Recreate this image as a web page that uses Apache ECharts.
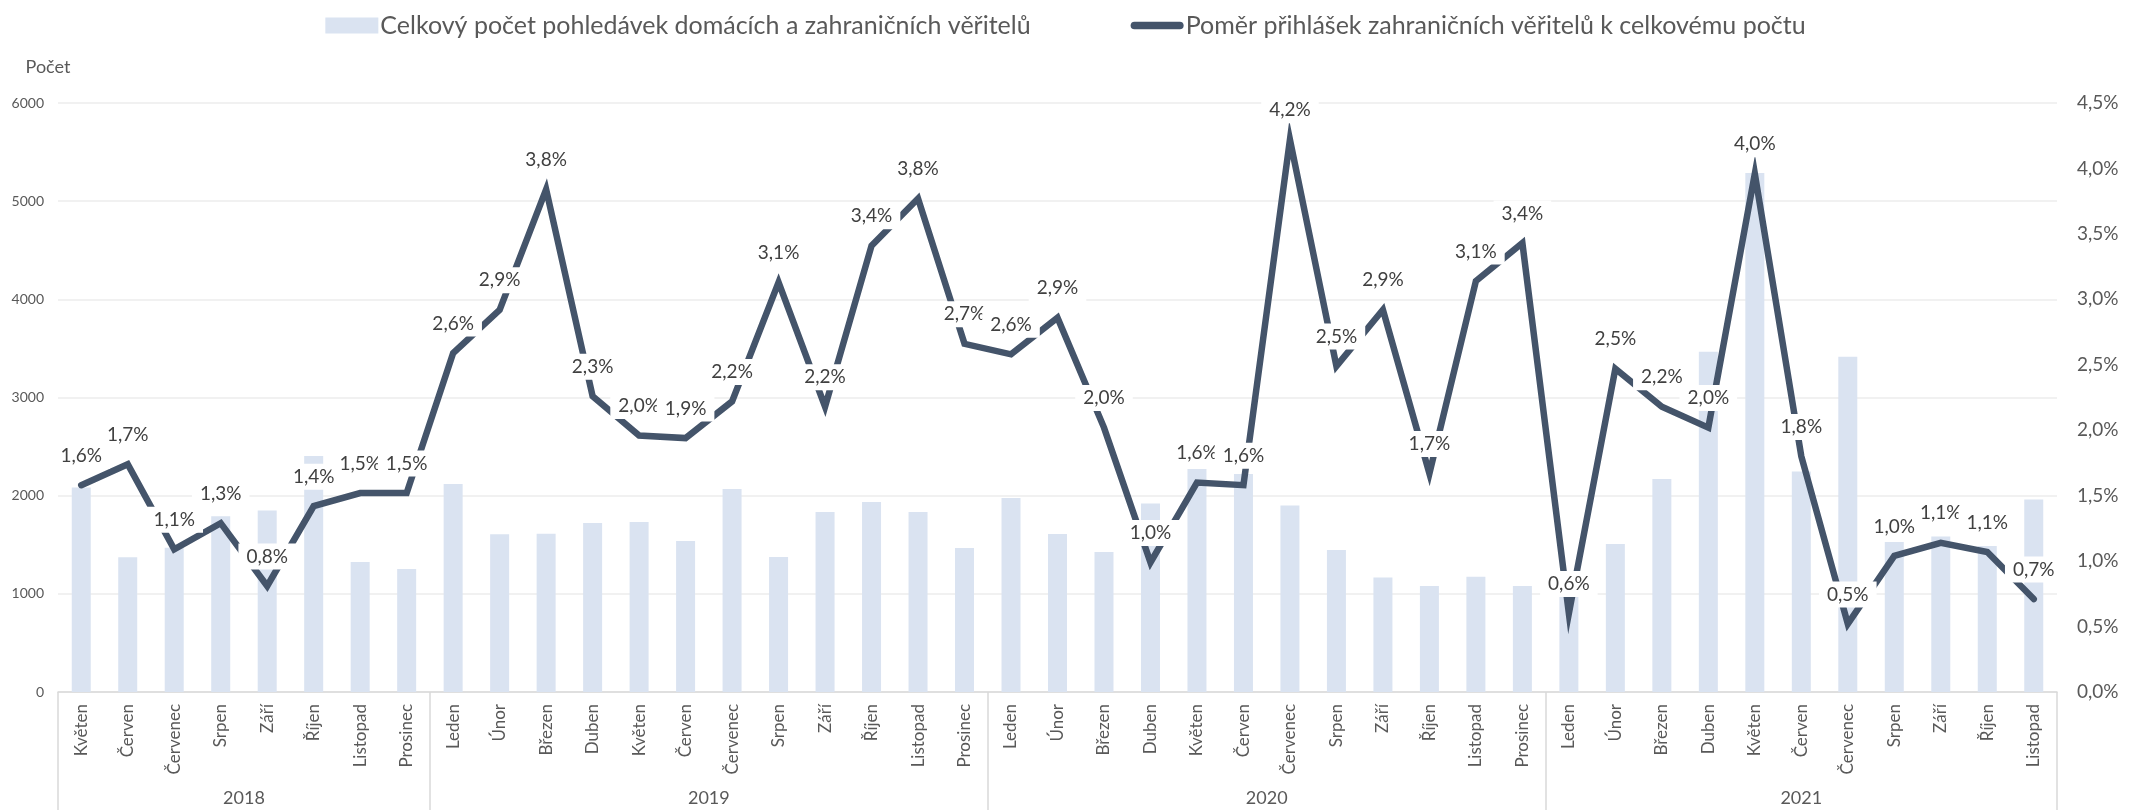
<!DOCTYPE html>
<html>
<head>
<meta charset="utf-8">
<title>Pohledávky</title>
<script src="https://cdn.jsdelivr.net/npm/echarts@6/dist/echarts.min.js"></script>
<style>
    html, body { margin: 0; padding: 0; background: #fff; }
    #chart { width: 2131px; height: 810px; }
</style>
</head>
<body>
<div id="chart"></div>
<script>
// kategorie po letech
const years = ['2018', '2019', '2020', '2021'];
const months2018 = ['Květen', 'Červen', 'Červenec', 'Srpen', 'Září', 'Říjen', 'Listopad', 'Prosinec'];
const months2019 = ['Leden', 'Únor', 'Březen', 'Duben', 'Květen', 'Červen', 'Červenec', 'Srpen', 'Září', 'Říjen', 'Listopad', 'Prosinec'];
const months2020 = ['Leden', 'Únor', 'Březen', 'Duben', 'Květen', 'Červen', 'Červenec', 'Srpen', 'Září', 'Říjen', 'Listopad', 'Prosinec'];
const months2021 = ['Leden', 'Únor', 'Březen', 'Duben', 'Květen', 'Červen', 'Červenec', 'Srpen', 'Září', 'Říjen', 'Listopad'];

// celkový počet pohledávek
const totalCount = [
    2082, 1373, 1470, 1790, 1849, 2404, 1324, 1253,
    2119, 1606, 1612, 1722, 1732, 1538, 2068, 1375, 1833, 1935, 1833, 1467,
    1976, 1609, 1426, 1919, 2271, 2221, 1899, 1446, 1166, 1080, 1175, 1080,
    1050, 1507, 2170, 3467, 5287, 2246, 3416, 1528, 1583, 1487, 1962
];

// poměr zahraničních věřitelů (%)
const foreignShare = [
    1.58, 1.74, 1.09, 1.29, 0.81, 1.42, 1.52, 1.52,
    2.59, 2.92, 3.84, 2.26, 1.96, 1.94, 2.22, 3.13, 2.18, 3.41, 3.77, 2.66,
    2.58, 2.86, 2.02, 0.99, 1.60, 1.58, 4.22, 2.49, 2.92, 1.67, 3.14, 3.43,
    0.60, 2.47, 2.18, 2.02, 3.96, 1.80, 0.52, 1.04, 1.14, 1.07, 0.71
];

const leftTicks = [0, 1000, 2000, 3000, 4000, 5000, 6000];
const rightTicks = [0, 0.5, 1, 1.5, 2, 2.5, 3, 3.5, 4, 4.5];

const barName = 'Celkový počet pohledávek domácích a zahraničních věřitelů';
const lineName = 'Poměr přihlášek zahraničních věřitelů k celkovému počtu';

const font = 'Lato, "Noto Sans", sans-serif';

// sestaveni os
let yearGroups = [months2018, months2019, months2020, months2021];
let months = [];
yearGroups.forEach(g => { months = months.concat(g); });

// druha osa po pulmesicich: hranice roku a stredy skupin
let halfSteps = new Array(months.length * 2 + 1).fill('');
let bounds = [];
let start = 0;
yearGroups.forEach((g, i) => {
    bounds.push(start * 2);
    halfSteps[start * 2 + g.length] = years[i];
    start += g.length;
});
bounds.push(start * 2);

const pct = v => v.toFixed(1).replace('.', ',') + '%';

let chart = echarts.init(document.getElementById('chart'));
const option = {
    animation: false,
    textStyle: { fontFamily: font },
    legend: {
        top: 8,
        left: 'center',
        itemGap: 100,
        itemWidth: 53,
        itemHeight: 16,
        selectedMode: false,
        textStyle: { fontSize: 25, color: '#595959', fontFamily: font, padding: [0, 0, 0, -3] },
        data: [
            { name: barName, icon: 'rect' },
            { name: lineName, icon: 'path://M4,0 L52,0 A4,4 0 0 1 52,8 L4,8 A4,4 0 0 1 4,0 Z' }
        ]
    },
    grid: {
        left: 58,
        right: 74,
        top: 103,
        bottom: 118,
        containLabel: false
    },
    xAxis: [
        {
            type: 'category',
            data: months,
            boundaryGap: true,
            axisLine: { lineStyle: { color: '#d9d9d9', width: 1.5 } },
            axisTick: { show: false },
            axisLabel: {
                interval: 0,
                rotate: 90,
                margin: 12,
                fontSize: 17,
                color: '#595959',
                fontFamily: font
            }
        },
        {
            type: 'category',
            data: halfSteps,
            boundaryGap: false,
            position: 'bottom',
            axisLine: { show: false },
            axisTick: {
                show: true,
                length: 120,
                interval: (idx) => bounds.indexOf(idx) >= 0,
                lineStyle: { color: '#d9d9d9', width: 1.5 }
            },
            axisLabel: {
                interval: (idx, val) => val !== '',
                margin: 97,
                fontSize: 18,
                color: '#595959',
                fontFamily: font
            },
            splitLine: { show: false }
        }
    ],
    yAxis: [
        {
            type: 'value',
            min: leftTicks[0],
            max: leftTicks[leftTicks.length - 1],
            interval: leftTicks[1] - leftTicks[0],
            name: 'Počet',
            nameLocation: 'end',
            nameGap: 27,
            nameTextStyle: { fontSize: 18, color: '#595959', align: 'center', padding: [0, 20, 0, 0] },
            axisLine: { show: false },
            axisTick: { show: false },
            axisLabel: { margin: 14, fontSize: 14, color: '#595959', formatter: v => String(v) },
            splitLine: { lineStyle: { color: '#ededed', width: 1.5 } }
        },
        {
            type: 'value',
            min: rightTicks[0],
            max: rightTicks[rightTicks.length - 1],
            interval: rightTicks[1] - rightTicks[0],
            position: 'right',
            axisLine: { show: false },
            axisTick: { show: false },
            axisLabel: { margin: 20, fontSize: 19, color: '#595959', formatter: pct },
            splitLine: { show: false }
        }
    ],
    series: [
        {
            name: barName,
            type: 'bar',
            xAxisIndex: 0,
            yAxisIndex: 0,
            barWidth: 19,
            itemStyle: { color: '#dae3f1' },
            data: totalCount
        },
        {
            name: lineName,
            type: 'line',
            xAxisIndex: 0,
            yAxisIndex: 1,
            symbol: 'circle',
            symbolSize: 1,
            showSymbol: true,
            itemStyle: { color: '#44546a' },
            lineStyle: { color: '#44546a', width: 6.5, join: 'miter', cap: 'round' },
            label: {
                show: true,
                position: 'top',
                distance: 16,
                fontSize: 19,
                lineHeight: 20,
                color: '#404040',
                backgroundColor: '#ffffff',
                padding: [3, 8],
                formatter: p => pct(p.value)
            },
            labelLayout: { hideOverlap: false },
            data: foreignShare
        }
    ]
};
chart.setOption(option);
</script>
</body>
</html>
